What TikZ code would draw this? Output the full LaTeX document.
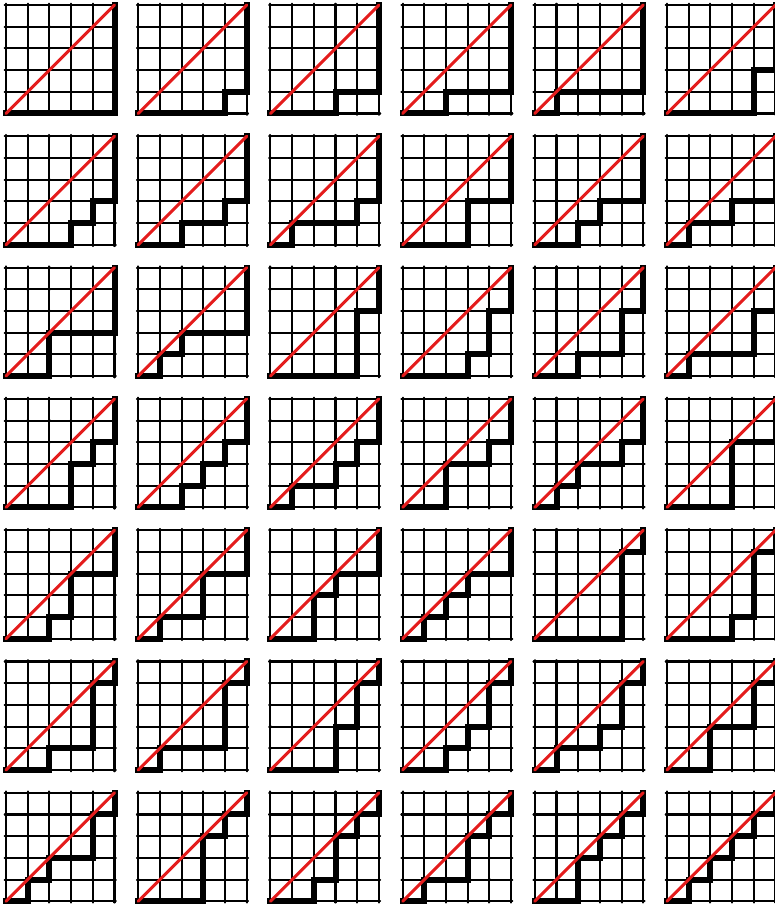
\documentclass[tikz,border=0pt]{standalone}
\definecolor{diagred}{RGB}{228,28,28}
\begin{document}
\begin{tikzpicture}[x=1pt,y=1pt,
  gridline/.style={line width=2.1pt, line cap=round},
  gdot/.style={fill=black},
  dyck/.style={line width=6pt, line cap=rect, line join=miter},
  diag/.style={diagred, line width=3pt, line cap=round}]
\useasboundingbox (0,0) rectangle (775,906);
\clip (0,0) rectangle (775,906);
\foreach \p [count=\i from 0] in {5555,4555,3555,2555,1555,4455,
  3455,2455,1455,3355,2355,1355,
  2255,1255,4445,3445,2445,1445,
  3345,2345,1345,2245,1245,3335,
  2335,1335,2235,1235,4444,3444,
  2444,1444,3344,2344,1344,2244,
  1244,3334,2334,1334,2234,1234} {
  \pgfmathtruncatemacro\rr{div(\i,6)}
  \pgfmathtruncatemacro\cc{mod(\i,6)}
  \pgfmathtruncatemacro\aa{div(\p,1000)}
  \pgfmathtruncatemacro\ab{mod(div(\p,100),10)}
  \pgfmathtruncatemacro\ac{mod(div(\p,10),10)}
  \pgfmathtruncatemacro\ad{mod(\p,10)}
  \begin{scope}[shift={(6+132.2*\cc, 906-5-108.5-131.3*\rr)}, x=21.7pt, y=21.7pt]
    \foreach \k in {0,...,5} {
      \draw[gridline] (\k,-0.06) -- (\k,5.06);
      \draw[gridline] (-0.06,\k) -- (5.06,\k);
    }
    \foreach \u in {0,...,5} \foreach \v in {0,...,5}
      \fill[gdot] (\u,\v) circle (1.7pt);
    \draw[dyck] (0,0) -- (\aa,0) -- (\aa,1) -- (\ab,1) -- (\ab,2) -- (\ac,2)
      -- (\ac,3) -- (\ad,3) -- (\ad,4) -- (5,4) -- (5,5);
    \draw[diag] (0,0) -- (5,5);
  \end{scope}
}
\end{tikzpicture}
\end{document}
